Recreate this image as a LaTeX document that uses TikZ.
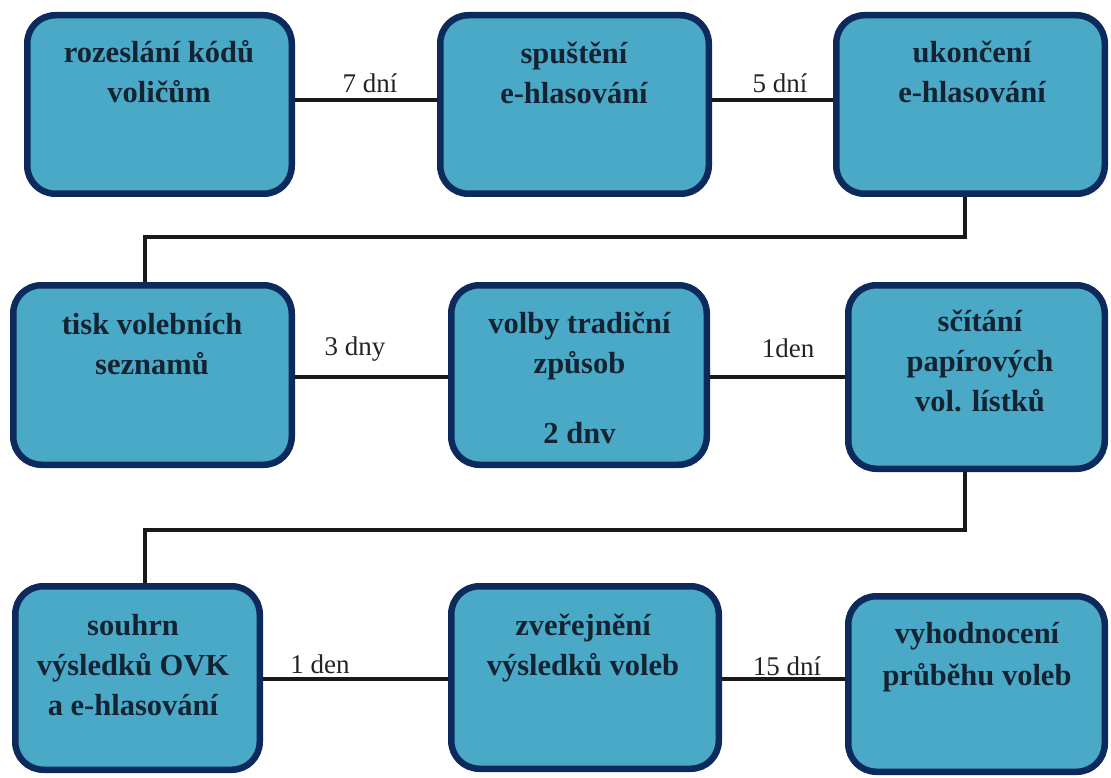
\documentclass[tikz,border=0pt]{standalone}
\usepackage{fontspec}
\setmainfont{Liberation Serif}
\usetikzlibrary{shadows}
\definecolor{boxfill}{RGB}{75,169,200}
\definecolor{boxline}{RGB}{12,42,92}
\definecolor{boxtext}{RGB}{20,35,50}
\definecolor{lbltext}{RGB}{35,35,35}
\tikzset{
  stagebox/.style={draw=boxline, fill=boxfill, line width=6.5pt, rounded corners=28pt,
    inner sep=0pt, drop shadow={shadow xshift=2pt, shadow yshift=-3pt, opacity=.3, fill=black!60}},
  btxt/.style={anchor=base, inner sep=0pt, text=boxtext, font=\fontsize{30.5}{40}\selectfont\bfseries},
  lbl/.style={anchor=base, inner sep=0pt, text=lbltext, font=\fontsize{27}{32}\selectfont},
  conn/.style={draw=black!90, line width=3.2pt}
}
\begin{document}
\begin{tikzpicture}[x=1pt,y=-1pt]
\useasboundingbox (0,0) rectangle (1111,778);
% boxes
\node[stagebox, minimum width=264.5pt, minimum height=178.5pt] (b1) at (159.5,104.5) {};
\node[stagebox, minimum width=268.5pt, minimum height=178.5pt] (b2) at (574.5,104.5) {};
\node[stagebox, minimum width=268.5pt, minimum height=178.5pt] (b3) at (970.5,104.5) {};
\node[stagebox, minimum width=278.5pt, minimum height=179.5pt] (b4) at (152.5,375) {};
\node[stagebox, minimum width=255.5pt, minimum height=179.5pt] (b5) at (579,375) {};
\node[stagebox, minimum width=256.5pt, minimum height=183.5pt] (b6) at (976.5,377) {};
\node[stagebox, minimum width=244.5pt, minimum height=183.5pt] (b7) at (137.5,678) {};
\node[stagebox, minimum width=267.5pt, minimum height=182.5pt] (b8) at (585,677.5) {};
\node[stagebox, minimum width=256.5pt, minimum height=175.5pt] (b9) at (976.5,684) {};
% box texts
\node[btxt] (t1) at (159,63) {\begin{tabular}[t]{@{}c@{}}rozeslání kódů\\voličům\end{tabular}};
\node[btxt] (t2) at (574,64) {\begin{tabular}[t]{@{}c@{}}spuštění\\e-hlasování\end{tabular}};
\node[btxt] (t3) at (972,63) {\begin{tabular}[t]{@{}c@{}}ukončení\\e-hlasování\end{tabular}};
\node[btxt] (t4) at (152,334) {\begin{tabular}[t]{@{}c@{}}tisk volebních\\seznamů\end{tabular}};
\node[btxt] (t5) at (579.5,333) {\begin{tabular}[t]{@{}c@{}}volby tradiční\\způsob\\[30pt]2 dnv\end{tabular}};
\node[btxt] (t6) at (980,331) {\begin{tabular}[t]{@{}c@{}}sčítání\\papírových\\vol. lístků\end{tabular}};
\node[btxt] (t7) at (133,635) {\begin{tabular}[t]{@{}c@{}}souhrn\\výsledků OVK\\a e-hlasování\end{tabular}};
\node[btxt] (t8) at (583,635) {\begin{tabular}[t]{@{}c@{}}zveřejnění\\výsledků voleb\end{tabular}};
\node[btxt] (t9) at (977,643) {\begin{tabular}[t]{@{}c@{}}vyhodnocení\\[2pt]průběhu voleb\end{tabular}};
% row levels and bends
\coordinate (r1) at (0,100);
\coordinate (r2) at (0,377);
\coordinate (r3) at (0,679);
\coordinate (k1) at (965,237);
\coordinate (k2) at (145,237);
\coordinate (k3) at (965,530);
\coordinate (k4) at (145,530);
% connectors
\draw[conn] (b1.east |- r1) -- (b2.west |- r1);
\draw[conn] (b2.east |- r1) -- (b3.west |- r1);
\draw[conn] (b3.south -| k1) -- (k1) -- (k2) -- (b4.north -| k2);
\draw[conn] (b4.east |- r2) -- (b5.west |- r2);
\draw[conn] (b5.east |- r2) -- (b6.west |- r2);
\draw[conn] (b6.south -| k3) -- (k3) -- (k4) -- (b7.north -| k4);
\draw[conn] (b7.east |- r3) -- (b8.west |- r3);
\draw[conn] (b8.east |- r3) -- (b9.west |- r3);
% labels
\node[lbl] (l1) at (370,93) {7 dní};
\node[lbl] (l2) at (780,93) {5 dní};
\node[lbl] (l3) at (355,355) {3 dny};
\node[lbl] (l4) at (788,357) {1den};
\node[lbl] (l5) at (320,673) {1 den};
\node[lbl] (l6) at (787,675) {15 dní};
\end{tikzpicture}
\end{document}
